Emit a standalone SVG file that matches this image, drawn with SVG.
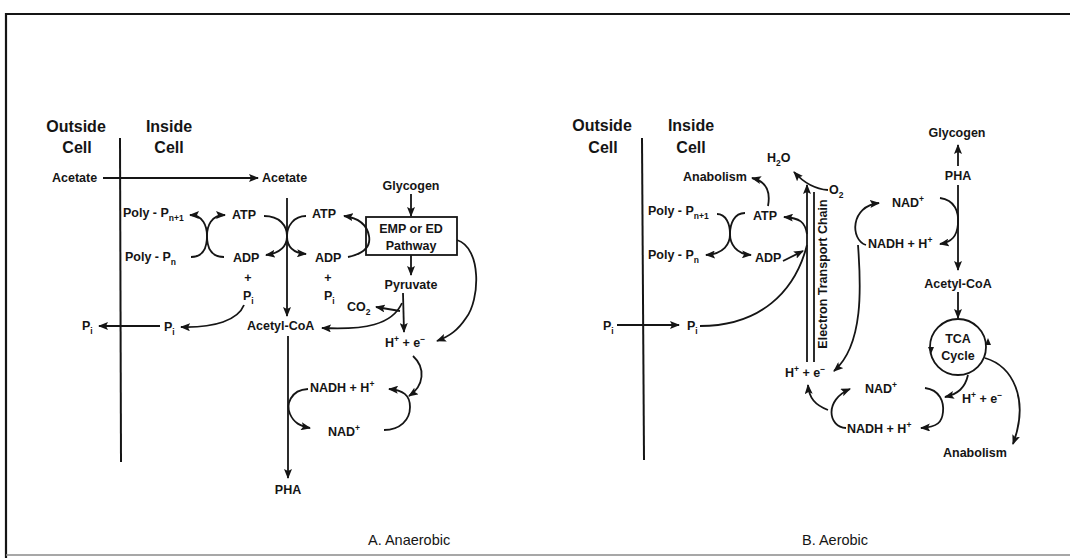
<svg xmlns="http://www.w3.org/2000/svg" width="1070" height="558" viewBox="0 0 1070 558">
<style>
.l{font-family:"Liberation Sans",Arial,sans-serif;font-weight:bold;font-size:12.5px;fill:#151515}
.h{font-family:"Liberation Sans",Arial,sans-serif;font-weight:bold;font-size:16px;fill:#151515}
.c{font-family:"Liberation Sans",Arial,sans-serif;font-size:14.5px;fill:#151515}
.s{font-size:8.5px}
.ln{fill:none;stroke:#151515;stroke-width:1.8}
.a{marker-end:url(#ah)}
.as{marker-start:url(#ah)}
.mem{fill:none;stroke:#151515;stroke-width:2}
</style>
<defs>
<marker id="ah" viewBox="0 0 10 8" refX="9" refY="4" markerWidth="10" markerHeight="8" markerUnits="userSpaceOnUse" orient="auto-start-reverse">
<path d="M0,0 L10,4 L0,8 L2,4 z" fill="#151515"/>
</marker>
</defs>
<rect width="1070" height="558" fill="#fff"/>
<g id="frame">
<path d="M6,558 L6,14 L1070,14" fill="none" stroke="#151515" stroke-width="2.2"/>
<path d="M6,555 L1070,555" fill="none" stroke="#8a8a8a" stroke-width="1.5"/>
</g>

<!-- Panel A nodes -->
<g id="A-outside"><text class="h" x="76" y="132" text-anchor="middle">Outside</text><text class="h" x="77" y="153" text-anchor="middle">Cell</text></g>
<g id="A-inside"><text class="h" x="169" y="132" text-anchor="middle">Inside</text><text class="h" x="169" y="153" text-anchor="middle">Cell</text></g>
<g id="A-membrane"><path class="mem" d="M120,138 L121,462"/></g>
<g id="A-acetate-out"><text class="l" x="52" y="182">Acetate</text></g>
<g id="A-acetate-in"><text class="l" x="262" y="182">Acetate</text></g>
<g id="A-polyPn1"><text class="l" x="123" y="217">Poly - P<tspan class="s" dy="4">n+1</tspan></text></g>
<g id="A-polyPn"><text class="l" x="125" y="261">Poly - P<tspan class="s" dy="4">n</tspan></text></g>
<g id="A-atp1"><text class="l" x="232" y="219">ATP</text></g>
<g id="A-adp1"><text class="l" x="233" y="262">ADP</text><text class="l" x="248" y="282" text-anchor="middle">+</text><text class="l" x="243" y="300">P<tspan class="s" dy="4">i</tspan></text></g>
<g id="A-atp2"><text class="l" x="312" y="218">ATP</text></g>
<g id="A-adp2"><text class="l" x="315" y="262">ADP</text><text class="l" x="328" y="282" text-anchor="middle">+</text><text class="l" x="324" y="300">P<tspan class="s" dy="4">i</tspan></text></g>
<g id="A-acetylcoa"><text class="l" x="247" y="330">Acetyl-CoA</text></g>
<g id="A-pi-mid"><text class="l" x="164" y="331">P<tspan class="s" dy="4">i</tspan></text></g>
<g id="A-pi-out"><text class="l" x="82" y="330">P<tspan class="s" dy="4">i</tspan></text></g>
<g id="A-glycogen"><text class="l" x="411" y="190" text-anchor="middle">Glycogen</text></g>
<g id="A-pathway"><rect x="366" y="217" width="91" height="38" fill="#fff" stroke="#151515" stroke-width="1.8"/><text class="l" x="411" y="233" text-anchor="middle">EMP or ED</text><text class="l" x="411" y="250" text-anchor="middle">Pathway</text></g>
<g id="A-pyruvate"><text class="l" x="411" y="289" text-anchor="middle">Pyruvate</text></g>
<g id="A-co2"><text class="l" x="347" y="311">CO<tspan class="s" dy="4">2</tspan></text></g>
<g id="A-he"><text class="l" x="385" y="347">H<tspan class="s" dy="-5">+</tspan><tspan dy="5"> + e</tspan><tspan class="s" dy="-5">−</tspan></text></g>
<g id="A-nadh"><text class="l" x="310" y="392">NADH + H<tspan class="s" dy="-5">+</tspan></text></g>
<g id="A-nad"><text class="l" x="328" y="436">NAD<tspan class="s" dy="-5">+</tspan></text></g>
<g id="A-pha"><text class="l" x="288" y="494" text-anchor="middle">PHA</text></g>
<g id="A-caption"><text class="c" x="368" y="545">A.  Anaerobic</text></g>

<!-- Panel B nodes -->
<g id="B-outside"><text class="h" x="602" y="131" text-anchor="middle">Outside</text><text class="h" x="603" y="153" text-anchor="middle">Cell</text></g>
<g id="B-inside"><text class="h" x="691" y="131" text-anchor="middle">Inside</text><text class="h" x="691" y="153" text-anchor="middle">Cell</text></g>
<g id="B-membrane"><path class="mem" d="M642,138 L644,460"/></g>
<g id="B-anabolism1"><text class="l" x="683" y="181">Anabolism</text></g>
<g id="B-polyPn1"><text class="l" x="648" y="215">Poly - P<tspan class="s" dy="4">n+1</tspan></text></g>
<g id="B-polyPn"><text class="l" x="648" y="259">Poly - P<tspan class="s" dy="4">n</tspan></text></g>
<g id="B-atp"><text class="l" x="753" y="220">ATP</text></g>
<g id="B-adp"><text class="l" x="755" y="262">ADP</text></g>
<g id="B-h2o"><text class="l" x="767" y="162">H<tspan class="s" dy="4">2</tspan><tspan dy="-4">O</tspan></text></g>
<g id="B-o2"><text class="l" x="829" y="194">O<tspan class="s" dy="4">2</tspan></text></g>
<g id="B-pi-out"><text class="l" x="603" y="330">P<tspan class="s" dy="4">i</tspan></text></g>
<g id="B-pi-in"><text class="l" x="687" y="330">P<tspan class="s" dy="4">i</tspan></text></g>
<g id="B-etc"><path class="ln" d="M814,192 L814,362"/><text class="l" x="0" y="0" text-anchor="middle" transform="translate(827,274) rotate(-90)" font-size="13.5">Electron Transport Chain</text></g>
<g id="B-he1"><text class="l" x="785" y="377">H<tspan class="s" dy="-5">+</tspan><tspan dy="5"> + e</tspan><tspan class="s" dy="-5">−</tspan></text></g>
<g id="B-nad1"><text class="l" x="892" y="207">NAD<tspan class="s" dy="-5">+</tspan></text></g>
<g id="B-nadh1"><text class="l" x="868" y="248">NADH + H<tspan class="s" dy="-5">+</tspan></text></g>
<g id="B-glycogen"><text class="l" x="957" y="137" text-anchor="middle">Glycogen</text></g>
<g id="B-pha"><text class="l" x="958" y="180" text-anchor="middle">PHA</text></g>
<g id="B-acetylcoa"><text class="l" x="958" y="288" text-anchor="middle">Acetyl-CoA</text></g>
<g id="B-tca"><circle cx="958" cy="347" r="28" fill="#fff" stroke="#151515" stroke-width="1.8"/><path d="M928,347 L934,347 L931,354 z M985,345 L991,345 L988,338 z" fill="#151515"/><text class="l" x="958" y="343" text-anchor="middle">TCA</text><text class="l" x="958" y="360" text-anchor="middle">Cycle</text></g>
<g id="B-he2"><text class="l" x="962" y="403">H<tspan class="s" dy="-5">+</tspan><tspan dy="5"> + e</tspan><tspan class="s" dy="-5">−</tspan></text></g>
<g id="B-nad2"><text class="l" x="865" y="393">NAD<tspan class="s" dy="-5">+</tspan></text></g>
<g id="B-nadh2"><text class="l" x="847" y="433">NADH + H<tspan class="s" dy="-5">+</tspan></text></g>
<g id="B-anabolism2"><text class="l" x="943" y="457">Anabolism</text></g>
<g id="B-caption"><text class="c" x="802" y="545">B.  Aerobic</text></g>

<g id="connectors">
<!-- Panel A -->
<path class="ln a" d="M103,178 L258,178" stroke-width="1.3"/>
<path class="ln a" d="M287,198 L287,316"/>
<path class="ln a" d="M288,336 L288,478"/>
<path class="ln as" d="M190,215 C203,215 207,226 207,236 C207,246 210,257 224,257"/>
<path class="ln as" d="M225,215 C211,215 207,226 207,236 C207,246 204,257 191,257"/>
<path class="ln a" d="M264,216 C280,216 287,226 287,236 C287,246 292,253 306,254"/>
<path class="ln a" d="M306,216 C294,216 287,226 287,236 C287,246 280,253 266,255"/>
<path class="ln a" d="M348,257 Q372,252 369,236 Q366,219 344,216"/>
<path class="ln a" d="M411,194 L411,216"/>
<path class="ln a" d="M411,255 L411,275"/>
<path class="ln a" d="M457,240 C482,248 480,300 466,318 C458,330 450,336 437,341"/>
<path class="ln a" d="M403,293 L404,332"/>
<path class="ln a" d="M402,303 C392,325 365,330 322,328"/>
<path class="ln a" d="M400,311 L376,307"/>
<path class="ln a" d="M413,356 C426,368 424,386 409,396"/>
<path class="ln a" d="M384,430 C400,430 410,420 410,407 C410,395 403,390 389,389"/>
<path class="ln a" d="M308,389 C290,390 286,405 290,414 C294,423 300,426 310,428"/>
<path class="ln a" d="M244,305 C238,320 215,328 181,327"/>
<path class="ln a" d="M160,326 L99,326"/>
<!-- Panel B -->
<path class="ln a" d="M745,213 C734,213 730,224 730,234 C730,244 724,254 706,255"/>
<path class="ln a" d="M717,214 C726,214 730,224 730,234 C730,244 736,254 751,255"/>
<path class="ln a" d="M768,206 C771,190 765,181 752,178"/>
<path class="ln a" d="M807,362 L807,185"/>
<path class="ln a" d="M828,190 C814,189 804,183 794,172"/>
<path class="ln a" d="M807,234 C805,222 800,218 784,217"/>
<path class="ln a" d="M783,261 L803,251"/>
<path class="ln" d="M700,326 C760,326 795,292 807,245"/>
<path class="ln a" d="M617,325 L679,325"/>
<path class="ln a" d="M940,198 C955,200 959,212 958,224 C957,236 952,242 940,244"/>
<path class="ln a" d="M866,245 C850,240 850,206 879,203"/>
<path class="ln a" d="M858,245 C861,285 864,345 834,371"/>
<path class="ln a" d="M958,166 L958,145"/>
<path class="ln a" d="M958,185 L958,270"/>
<path class="ln a" d="M958,292 L958,318"/>
<path class="ln a" d="M968,375 C965,388 958,394 945,397"/>
<path class="ln a" d="M985,358 C1012,366 1030,398 1013,444"/>
<path class="ln a" d="M925,388 C940,390 944,402 943,412 C942,422 938,427 921,428"/>
<path class="ln a" d="M846,428 C828,427 824,400 850,389"/>
<path class="ln a" d="M828,410 C815,405 809,398 808,385"/>
</g>
</svg>
